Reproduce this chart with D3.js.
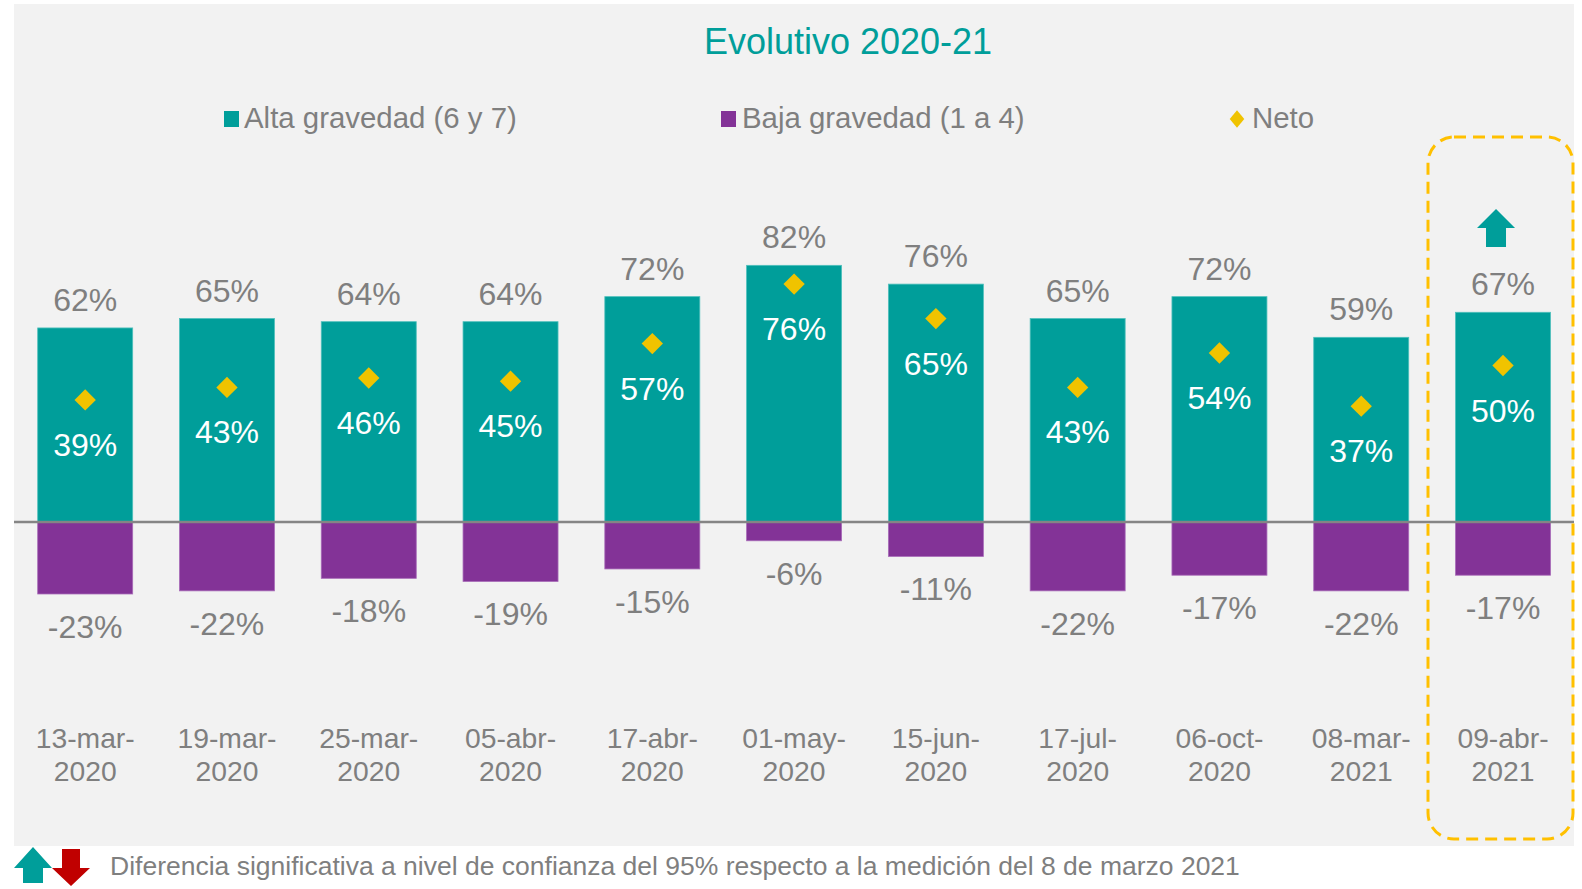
<!DOCTYPE html>
<html>
<head>
<meta charset="utf-8">
<script src="https://cdn.jsdelivr.net/npm/d3@7"></script>
<style>
  body { margin: 0; background: #fff; }
  svg { display: block; font-family: "Liberation Sans", Arial, sans-serif; }
</style>
</head>
<body>
<svg width="1582" height="889"></svg>
<script>
// chart data
var categories = ["13-mar-2020", "19-mar-2020", "25-mar-2020", "05-abr-2020", "17-abr-2020",
  "01-may-2020", "15-jun-2020", "17-jul-2020", "06-oct-2020", "08-mar-2021", "09-abr-2021"];
var alta = [62, 65, 64, 64, 72, 82, 76, 65, 72, 59, 67];
var baja = [-23, -22, -18, -19, -15, -6, -11, -22, -17, -22, -17];
var neto = [39, 43, 46, 45, 57, 76, 65, 43, 54, 37, 50];
var legendLabels = ["Alta gravedad (6 y 7)", "Baja gravedad (1 a 4)", "Neto"];

var teal = "#009e9a",
    purple = "#833397",
    yellow = "#f0c300",
    grey = "#7f7f7f";

var svg = d3.select("svg");

// grey panel behind the chart
svg.append("rect")
  .attr("x", 14).attr("y", 4)
  .attr("width", 1560).attr("height", 842)
  .attr("fill", "#f2f2f2");

var x = d3.scaleBand()
  .domain(categories)
  .range([14.3, 1573.9])
  .paddingInner(0.33)
  .paddingOuter(0.165);

var y = d3.scaleLinear()
  .domain([0, 100])
  .range([522, 209]);

var rows = categories.map(function(c, i) {
  return { cat: c, alta: alta[i], baja: baja[i], neto: neto[i] };
});

// title
svg.append("text")
  .attr("x", 848).attr("y", 54)
  .attr("text-anchor", "middle")
  .attr("fill", teal)
  .style("font-size", "36px")
  .text("Evolutivo 2020-21");

// legend
var legend = svg.append("g").style("font-size", "29.4px").attr("fill", grey);
legend.append("rect").attr("x", 224).attr("y", 111).attr("width", 15).attr("height", 16).attr("fill", teal);
legend.append("text").attr("x", 244).attr("y", 128).text(legendLabels[0]);
legend.append("rect").attr("x", 721).attr("y", 111).attr("width", 15).attr("height", 16).attr("fill", purple);
legend.append("text").attr("x", 742).attr("y", 128).text(legendLabels[1]);
legend.append("path")
  .attr("d", d3.symbol(d3.symbolDiamond2, 150)())
  .attr("transform", "translate(1237,119) scale(0.95,1.15)")
  .attr("fill", yellow);
legend.append("text").attr("x", 1252).attr("y", 128).text(legendLabels[2]);

var g = svg.append("g");

// positive bars
g.selectAll(".alta")
  .data(rows).enter().append("rect")
  .attr("class", "alta")
  .attr("x", d => x(d.cat))
  .attr("width", x.bandwidth())
  .attr("y", d => y(d.alta))
  .attr("height", d => y(0) - y(d.alta))
  .attr("fill", teal)
  .attr("stroke", "#4fc0bc").attr("stroke-width", 0.8);

// negative bars
g.selectAll(".baja")
  .data(rows).enter().append("rect")
  .attr("class", "baja")
  .attr("x", d => x(d.cat))
  .attr("width", x.bandwidth())
  .attr("y", y(0))
  .attr("height", d => y(d.baja) - y(0))
  .attr("fill", purple)
  .attr("stroke", "#a86bb8").attr("stroke-width", 0.8);

// zero line
svg.append("line")
  .attr("x1", 14).attr("x2", 1574)
  .attr("y1", y(0)).attr("y2", y(0))
  .attr("stroke", "#858585").attr("stroke-width", 2.5);

// neto diamonds
g.selectAll(".neto")
  .data(rows).enter().append("path")
  .attr("class", "neto")
  .attr("d", d3.symbol(d3.symbolDiamond2, 290)())
  .attr("transform", d => "translate(" + (x(d.cat) + x.bandwidth() / 2) + "," + y(d.neto) + ")")
  .attr("fill", yellow);

var cx = d => x(d.cat) + x.bandwidth() / 2;

// value labels
var labels = svg.append("g").attr("text-anchor", "middle").style("font-size", "32px");
labels.selectAll(".lblAlta")
  .data(rows).enter().append("text")
  .attr("x", cx).attr("y", d => y(d.alta) - 17)
  .attr("fill", grey)
  .text(d => d.alta + "%");
labels.selectAll(".lblNeto")
  .data(rows).enter().append("text")
  .attr("x", cx).attr("y", d => y(d.neto) + 56)
  .attr("fill", "#fff")
  .text(d => d.neto + "%");
labels.selectAll(".lblBaja")
  .data(rows).enter().append("text")
  .attr("x", cx).attr("y", d => y(d.baja) + 44)
  .attr("fill", grey)
  .text(d => d.baja + "%");

// category labels on two lines
var cats = svg.append("g").attr("text-anchor", "middle").style("font-size", "28.3px").attr("fill", grey);
cats.selectAll("text")
  .data(rows).enter().append("text")
  .attr("x", cx)
  .attr("y", 748)
  .each(function(d) {
    var parts = d.cat.split("-");
    var t = d3.select(this);
    t.append("tspan").attr("x", cx(d)).attr("y", 748).text(parts[0] + "-" + parts[1] + "-");
    t.append("tspan").attr("x", cx(d)).attr("y", 781).text(parts[2]);
  });

// highlight box around the last measurement
svg.append("rect")
  .attr("x", 1428).attr("y", 137)
  .attr("width", 145).attr("height", 702)
  .attr("rx", 26).attr("ry", 26)
  .attr("fill", "none")
  .attr("stroke", "#ffc000")
  .attr("stroke-width", 3)
  .attr("stroke-dasharray", "12 7");

// arrows
function upArrow(tipX, tipY, w, h, head, shaft) {
  return "M" + tipX + "," + tipY +
    "L" + (tipX + w / 2) + "," + (tipY + head) +
    "L" + (tipX + shaft / 2) + "," + (tipY + head) +
    "L" + (tipX + shaft / 2) + "," + (tipY + h) +
    "L" + (tipX - shaft / 2) + "," + (tipY + h) +
    "L" + (tipX - shaft / 2) + "," + (tipY + head) +
    "L" + (tipX - w / 2) + "," + (tipY + head) + "Z";
}
function downArrow(tipX, tipY, w, h, head, shaft) {
  return "M" + tipX + "," + tipY +
    "L" + (tipX + w / 2) + "," + (tipY - head) +
    "L" + (tipX + shaft / 2) + "," + (tipY - head) +
    "L" + (tipX + shaft / 2) + "," + (tipY - h) +
    "L" + (tipX - shaft / 2) + "," + (tipY - h) +
    "L" + (tipX - shaft / 2) + "," + (tipY - head) +
    "L" + (tipX - w / 2) + "," + (tipY - head) + "Z";
}

var last = rows[rows.length - 1];
svg.append("path")
  .attr("d", upArrow(cx(last) - 7, 209, 38, 38, 19, 20))
  .attr("fill", teal);

// footnote
svg.append("path").attr("d", upArrow(33, 847, 38, 36, 21, 20)).attr("fill", teal);
svg.append("path").attr("d", downArrow(71, 886, 38, 37, 18, 18)).attr("fill", "#c00000");
svg.append("text")
  .attr("x", 110).attr("y", 875)
  .attr("fill", grey)
  .style("font-size", "26.5px")
  .text("Diferencia significativa a nivel de confianza del 95% respecto a la medición del 8 de marzo 2021");
</script>
</body>
</html>
